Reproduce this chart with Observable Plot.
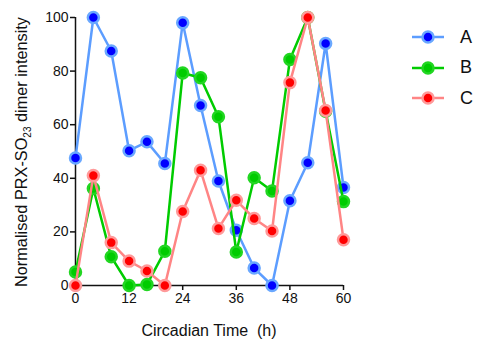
<!DOCTYPE html>
<html><head><meta charset="utf-8">
<script src="https://cdn.jsdelivr.net/npm/d3@7"></script>
<script src="https://cdn.jsdelivr.net/npm/@observablehq/plot@0.6"></script>
<style>
body{margin:0;background:#fff;font-family:"Liberation Sans",Arial,sans-serif;}
#wrap{position:relative;width:488px;height:347px;}
#legend{position:absolute;left:410px;top:22px;}
.row{display:flex;align-items:center;height:30.5px;}
.row span{font-size:18px;margin-left:14px;color:#111;}
</style></head>
<body><div id="wrap"><div id="legend"></div></div>
<script>
const times = [0,4,8,12,16,20,24,28,32,36,40,44,48,52,56,60];
const seriesA = [47.6,100,87.5,50.3,53.6,45.5,98,67.2,39,20.6,6.5,0,31.6,45.8,90.3,36.6];
const seriesB = [5,36.2,10.7,0,0.4,12.8,79.3,77.5,63,12.5,40.2,35.3,84.3,100,65,31.3];
const seriesC = [0,41,16,9.1,5.4,0,27.6,43,21.3,31.8,25,20.3,75.7,100,65.3,17.1];
const names = ["A","B","C"];
const lineColors = ["#5c9dff","#00cc00","#ff8585"];
const fillColors = ["#0000ff","#00cc00","#ff0000"];
const strokeColors = ["#6aa8ff","#22d622","#ff9a9a"];
const xTicks = [0,12,24,36,48,60];
const yTicks = [0,20,40,60,80,100];

const all = [seriesA, seriesB, seriesC];
const marks = [];
all.forEach((vals, i) => {
  const data = times.map((t, j) => ({t, v: vals[j], s: names[i]}));
  marks.push(Plot.line(data, {x: "t", y: "v", stroke: lineColors[i], strokeWidth: 2.5}));
  marks.push(Plot.dot(data, {x: "t", y: "v", r: 5.5, fill: fillColors[i], stroke: strokeColors[i], strokeWidth: 2.5}));
});

const chart = Plot.plot({
  width: 488, height: 347,
  marginLeft: 75, marginRight: 145, marginTop: 17, marginBottom: 62,
  style: {fontFamily: "Liberation Sans, Arial, sans-serif", fontSize: "14px", color: "#111", background: "#fff"},
  x: {domain: [0, 60], ticks: xTicks, tickSize: 5, tickPadding: 3, label: null},
  y: {domain: [0, 100], ticks: yTicks, tickSize: 5, tickPadding: 2, label: null},
  marks: [
    Plot.ruleY([0], {stroke: "#111", strokeWidth: 1.5}),
    Plot.ruleX([0], {stroke: "#111", strokeWidth: 1.5}),
    Plot.axisX({ticks: xTicks, tickSize: 5, tickPadding: 3, fontSize: 14, stroke: "#111", strokeWidth: 1.5}),
    Plot.axisY({ticks: yTicks, tickSize: 5, tickPadding: 2, fontSize: 14, stroke: "#111", strokeWidth: 1.5}),
    ...marks
  ]
});
document.getElementById("wrap").prepend(chart);

const svg = d3.select(chart);
const xs = chart.scale("x"), ys = chart.scale("y");
const xc = (xs.range[0] + xs.range[1]) / 2;
const yc = (ys.range[0] + ys.range[1]) / 2;
svg.append("text").attr("x", xc).attr("y", 336).attr("text-anchor", "middle")
  .attr("font-size", 16).attr("fill", "#111").attr("xml:space","preserve").text("Circadian Time  (h)");
const yl = svg.append("text").attr("transform", `translate(27,${yc + 1}) rotate(-90)`)
  .attr("text-anchor", "middle").attr("font-size", 16.3).attr("fill", "#111");
yl.append("tspan").text("Normalised PRX-SO");
yl.append("tspan").attr("font-size", 10).attr("dy", 4).text("23");
yl.append("tspan").attr("dy", -4).text(" dimer intensity");

const leg = d3.select("#legend");
names.forEach((n, i) => {
  const row = leg.append("div").attr("class", "row");
  const s = row.append("svg").attr("width", 36).attr("height", 16);
  s.append("line").attr("x1", 2).attr("x2", 34).attr("y1", 8).attr("y2", 8).attr("stroke", lineColors[i]).attr("stroke-width", 2.5);
  s.append("circle").attr("cx", 18).attr("cy", 8).attr("r", 5.5).attr("fill", fillColors[i]).attr("stroke", strokeColors[i]).attr("stroke-width", 2.5);
  row.append("span").text(n);
});
</script></body></html>
